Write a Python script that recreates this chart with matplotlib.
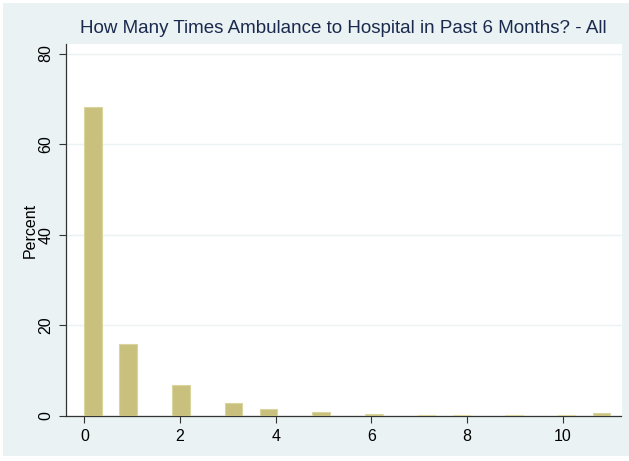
import matplotlib
matplotlib.use("Agg")
import matplotlib.pyplot as plt
import numpy as np
from matplotlib.patches import Rectangle

plt.rcParams['font.family'] = ['Liberation Sans', 'DejaVu Sans']

# Data: number of ambulance trips and percent of respondents
trips = [0, 1, 2, 3, 4, 5, 6, 7, 8, 9, 10, 11]
percent = [68.3, 15.8, 6.8, 2.9, 1.5, 0.95, 0.5, 0.3, 0.3, 0.2, 0.3, 0.6]
n_bins = 30
title = "How Many Times Ambulance to Hospital in Past 6 Months? - All"
y_ticks = [0, 20, 40, 60, 80]
x_ticks = [0, 2, 4, 6, 8, 10]

bg = '#EAF2F3'
fig = plt.figure(figsize=(6.29, 4.61), dpi=100)
fig.patch.set_facecolor('white')
fig.patches.append(Rectangle((3 / 629, 5 / 461), 1 - 3 / 629, 1 - 8 / 461,
                             transform=fig.transFigure, facecolor=bg,
                             edgecolor='none', zorder=-10))

ax = fig.add_axes([65.7 / 629, 45 / 461, (621.5 - 65.7) / 629, (416 - 44) / 461])
ax.set_zorder(1)
ax.set_facecolor('white')

bins = np.linspace(min(trips), max(trips), n_bins + 1)
ax.hist(trips, bins=bins, weights=percent, color='#C9C07E',
        edgecolor='#DAD49E', linewidth=0.8, zorder=3)

ax.set_xlim(-0.39, 11.23)
ax.set_ylim(0, 82.1)
ax.set_yticks(y_ticks)
ax.set_xticks(x_ticks)
ax.set_yticklabels([str(v) for v in y_ticks], rotation=90, va='center', fontsize=11.5)
ax.set_xticklabels([str(v) for v in x_ticks], fontsize=11.5)
ax.tick_params(axis='both', length=5, width=0.8, color='#333333', pad=4)
ax.grid(axis='y', color=bg, linewidth=1.0, zorder=0)
ax.set_axisbelow(True)

for s in ['top', 'right']:
    ax.spines[s].set_visible(False)
for s in ['left', 'bottom']:
    ax.spines[s].set_color('#333333')
    ax.spines[s].set_linewidth(0.9)

ax.set_ylabel('Percent', fontsize=11.5, labelpad=0)
ax.set_title(title, fontsize=13.5, color='#1A2A4E', pad=8)

fig.savefig('out.png', dpi=100, facecolor=fig.get_facecolor())
